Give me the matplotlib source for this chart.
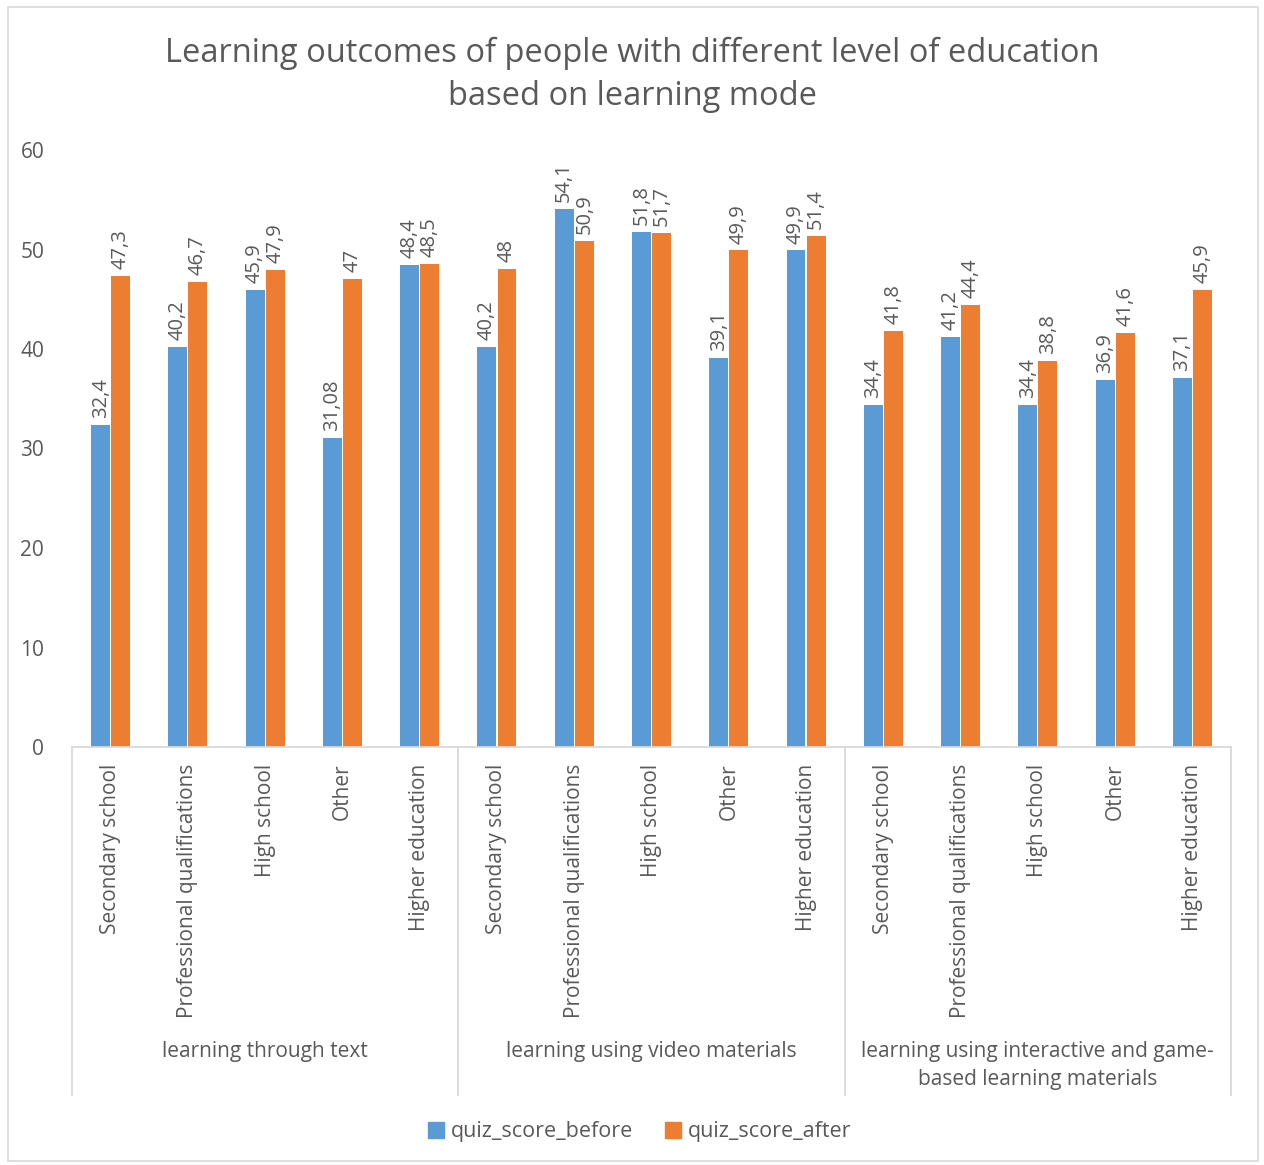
import matplotlib
matplotlib.use("Agg")
import matplotlib.pyplot as plt
import matplotlib.patches as mpatches
import matplotlib.transforms as mtransforms
import numpy as np

plt.rcParams['font.family'] = ['Open Sans', 'DejaVu Sans']

# data
groups = ["learning through text", "learning using video materials",
          "learning using interactive and game-\nbased learning materials"]
levels = ["Secondary school", "Professional qualifications", "High school",
          "Other", "Higher education"]
score_before = [32.4, 40.2, 45.9, 31.08, 48.4,
                40.2, 54.1, 51.8, 39.1, 49.9,
                34.4, 41.2, 34.4, 36.9, 37.1]
score_after = [47.3, 46.7, 47.9, 47, 48.5,
               48, 50.9, 51.7, 49.9, 51.4,
               41.8, 44.4, 38.8, 41.6, 45.9]
series_names = ["quiz_score_before", "quiz_score_after"]

blue = "#5b9bd5"
orange = "#ed7d31"
txt = "#595959"
line = "#d9d9d9"

fig = plt.figure(figsize=(12.64, 11.65), dpi=100)
ax = fig.add_axes([72/1264, 1-747/1165, (1231-72)/1264, (747-150)/1165])

n = len(score_before)
x = np.arange(n)
w = 0.245
b1 = ax.bar(x - 0.13, score_before, w, color=blue, label=series_names[0])
b2 = ax.bar(x + 0.13, score_after, w, color=orange, label=series_names[1])

def fmt(v):
    return f"{v:g}".replace('.', ',')

for bars, vals in ((b1, score_before), (b2, score_after)):
    ax.bar_label(bars, labels=[fmt(v) for v in vals], padding=5, rotation=90,
                 fontsize=14.5, color=txt)

ax.set_xlim(-0.5, n - 0.5)
ax.set_ylim(0, 60)
ax.set_yticks(range(0, 61, 10))
ax.tick_params(axis='y', length=0, labelsize=15, labelcolor=txt, pad=20)
ax.set_xticks(x)
ax.set_xticklabels(levels * len(groups), rotation=90, fontsize=15, color=txt)
ax.tick_params(axis='x', length=0, pad=12)
for s in ['top', 'right', 'left']:
    ax.spines[s].set_visible(False)
ax.spines['bottom'].set_color(line)
ax.spines['bottom'].set_linewidth(1.3)

# group separators and group labels
tr = mtransforms.blended_transform_factory(ax.transData, ax.transAxes)
bottom_y = (747 - 1095) / 597
for i in range(len(groups) + 1):
    xs = i * len(levels) - 0.5
    ax.plot([xs, xs], [0, bottom_y], color=line, lw=1.3, transform=tr, clip_on=False)
for i, g in enumerate(groups):
    xc = i * len(levels) + (len(levels) - 1) / 2
    ax.text(xc, (747 - 1041) / 597, g, transform=tr, ha='center', va='top',
            fontsize=15, color=txt, linespacing=1.45)

fig.text(0.5, 1 - 75/1165, "Learning outcomes of people with different level of education\nbased on learning mode",
         ha='center', va='center', fontsize=23.5, color=txt, linespacing=1.38)

handles = [mpatches.Patch(color=blue), mpatches.Patch(color=orange)]
fig.legend(handles, series_names, loc='center', bbox_to_anchor=(0.506, 1 - 1132/1165),
           ncol=2, frameon=False, fontsize=15.5, labelcolor=txt,
           handlelength=0.75, handleheight=0.75, handletextpad=0.3, columnspacing=1.5)

fig.patches.append(mpatches.Rectangle((8/1264, 4/1165), 1250/1264, 1154/1165,
                                      transform=fig.transFigure, fill=False,
                                      edgecolor=line, lw=1.2))

fig.savefig("out.png", dpi=100)
